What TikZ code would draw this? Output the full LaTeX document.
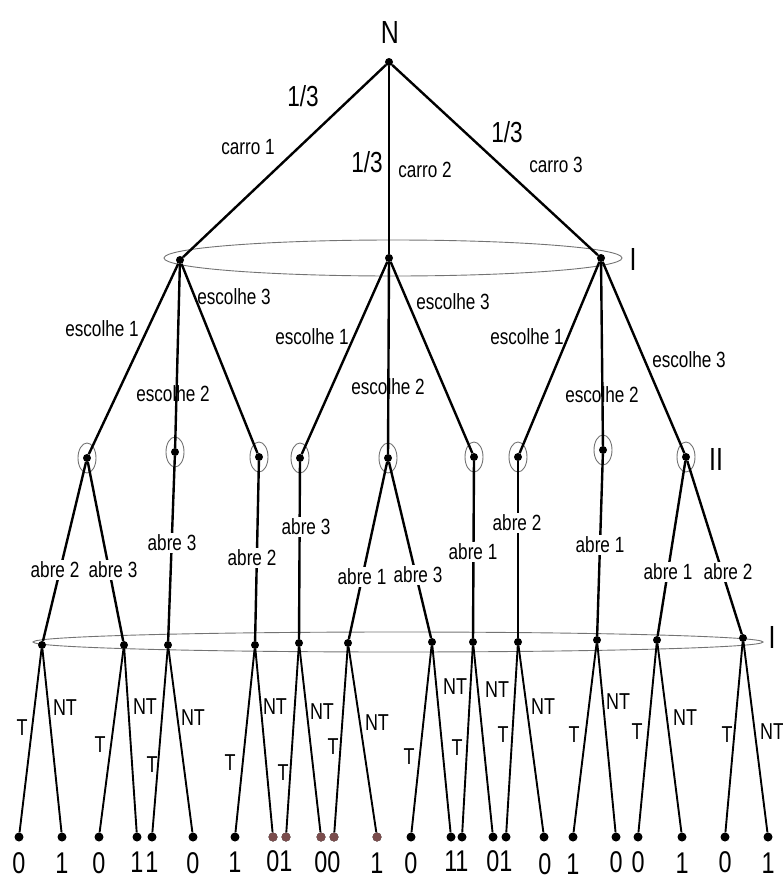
\documentclass[tikz,border=0pt]{standalone}
\usepackage{fontspec}
\setmainfont[FakeStretch=0.78]{Liberation Sans}
\begin{document}
\begin{tikzpicture}[x=1pt,y=-1pt,
  dot/.style={circle,fill=black,inner sep=0pt,minimum size=8pt},
  leafdot/.style={circle,fill=black,inner sep=0pt,minimum size=9pt},
  greydot/.style={leafdot,fill=black!55!red!40!gray},
  edge/.style={line width=2.4pt},
  thinedge/.style={line width=1.9pt},
  infoset/.style={draw=black!55,line width=0.9pt},
  lbl/.style={inner sep=1pt,font=\fontsize{22}{22}\selectfont},
  ablbl/.style={lbl,fill=white,inner sep=1.5pt},
  prob/.style={inner sep=0pt,font=\fontsize{29}{29}\selectfont},
  tlbl/.style={inner sep=0pt,font=\fontsize{23}{23}\selectfont},
  digit/.style={inner sep=0pt,font=\fontsize{30}{30}\selectfont},
  player/.style={inner sep=0pt,font=\fontsize{32}{32}\selectfont}]
\useasboundingbox (0,0) rectangle (783,881);

% information sets
\draw[infoset] (393,258) ellipse [x radius=229, y radius=18];
\draw[infoset] (398,642) ellipse [x radius=365, y radius=10];

% root and level 1
\node[dot] (root) at (389,62) {};
\node[dot] (A) at (180,260) {};
\node[dot] (B) at (389,258) {};
\node[dot] (C) at (601,258) {};

% level 2
\node[dot] (a1) at (87,458) {};
\node[dot] (a2) at (175,452) {};
\node[dot] (a3) at (259,457) {};
\node[dot] (b1) at (300,458) {};
\node[dot] (b2) at (388,458) {};
\node[dot] (b3) at (474,457) {};
\node[dot] (c1) at (518,457) {};
\node[dot] (c2) at (603,450) {};
\node[dot] (c3) at (686,457) {};
\foreach \n in {a1,a2,a3,b1,b2,b3,c1,c2,c3}
  \draw[infoset] (\n.center) ellipse [x radius=9, y radius=15];

% level 3
\foreach \x/\y [count=\i] in {42/645,124/645,168/645,255/645,299/643,348/643,432/642,473/642,518/642,597/640,657/640,743/638}
  \node[dot] (d\i) at (\x,\y) {};

% leaves
\foreach \x [count=\i] in {19,62,99,137,152,193,235,273,286,321,334,377,411,451,462,493,506,544,573,616,638,682,725,768}
  \node[leafdot] (t\i) at (\x,837) {};
\foreach \i in {8,9,10,11,12}
  \node[greydot] at (t\i.center) {};

% edges
\draw[edge] (root) -- (A);
\draw[edge] (root) -- (B);
\draw[edge] (root) -- (C);
\foreach \p/\c in {A/a1,A/a2,A/a3,B/b1,B/b2,B/b3,C/c1,C/c2,C/c3}
  \draw[edge] (\p) -- (\c);
\foreach \p/\c in {a1/d1,a1/d2,a2/d3,a3/d4,b1/d5,b2/d6,b2/d7,b3/d8,c1/d9,c2/d10,c3/d11,c3/d12}
  \draw[edge] (\p) -- (\c);
\foreach \i [evaluate=\i as \a using int(2*\i-1), evaluate=\i as \b using int(2*\i)] in {1,...,12} {
  \draw[thinedge] (d\i) -- (t\a);
  \draw[thinedge] (d\i) -- (t\b);
}

% players
\node[player] (pN) at (390,32) {N};
\node[player] (pI) at (633,259) {I};
\node[player] (pII) at (716,459) {II};
\node[player] (pI2) at (772,637) {I};

% chance labels
\node[prob] (p1) at (303,96) {1/3};
\node[lbl] (c1l) at (248,147) {carro 1};
\node[prob] (p2) at (367,162) {1/3};
\node[lbl] (c2l) at (425,170) {carro 2};
\node[prob] (p3) at (507,132) {1/3};
\node[lbl] (c3l) at (556,165) {carro 3};

% escolhe labels
\node[lbl] (e1) at (102,329) {escolhe 1};
\node[lbl] (e2) at (173,394) {escolhe 2};
\node[lbl] (e3) at (234,297) {escolhe 3};
\node[lbl] (e4) at (312,337) {escolhe 1};
\node[lbl] (e5) at (388,387) {escolhe 2};
\node[lbl] (e6) at (453,302) {escolhe 3};
\node[lbl] (e7) at (527,337) {escolhe 1};
\node[lbl] (e8) at (602,395) {escolhe 2};
\node[lbl] (e9) at (689,360) {escolhe 3};

% abre labels
\node[ablbl] (o1) at (55,570) {abre 2};
\node[ablbl] (o2) at (113,570) {abre 3};
\node[ablbl] (o3) at (172,543) {abre 3};
\node[ablbl] (o4) at (252,558) {abre 2};
\node[ablbl] (o5) at (306,527) {abre 3};
\node[ablbl] (o6) at (362,577) {abre 1};
\node[ablbl] (o7) at (418,575) {abre 3};
\node[ablbl] (o8) at (473,552) {abre 1};
\node[ablbl] (o9) at (517,523) {abre 2};
\node[ablbl] (o10) at (600,545) {abre 1};
\node[ablbl] (o11) at (668,572) {abre 1};
\node[ablbl] (o12) at (728,572) {abre 2};

% T / NT labels
\foreach \tx/\ty/\nx/\ny [count=\i] in {22/728/65/708, 100/745/145/707, 152/765/193/718, 230/763/275/707, 283/773/322/712, 333/747/377/723, 409/757/455/687, 457/748/497/690, 503/735/543/707, 574/735/618/702, 637/732/685/718, 727/735/772/732} {
  \node[tlbl] (T\i) at (\tx,\ty) {T};
  \node[tlbl] (NT\i) at (\nx,\ny) {NT};
}

% payoffs
\foreach \x/\y/\d [count=\i] in {19/863/0,62/863/1,99/863/0,137/862/1,152/862/1,193/863/0,235/862/1,273/861/0,286/861/1,321/862/0,334/862/0,377/863/1,411/863/0,451/861/1,462/861/1,493/861/0,506/861/1,545/864/0,573/864/1,616/862/0,638/862/0,682/863/1,725/862/0,768/863/1}
  \node[digit] (v\i) at (\x,\y) {\d};
\end{tikzpicture}
\end{document}
